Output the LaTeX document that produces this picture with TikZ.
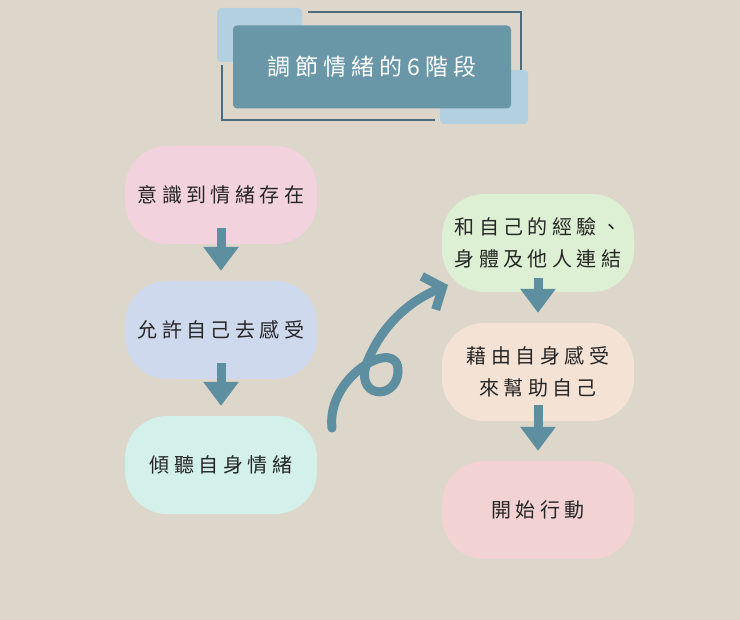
\documentclass[tikz,border=0pt]{standalone}
\usepackage{fontspec}
\newfontfamily\cjk{Noto Sans CJK TC}
\usetikzlibrary{arrows.meta}
\definecolor{bg}{HTML}{DDD6CA}
\definecolor{teal}{HTML}{6A97A8}
\definecolor{lblue}{HTML}{B3D0E0}
\definecolor{dline}{HTML}{4E6B7C}
\definecolor{arr}{HTML}{5E8FA0}
\tikzset{
 blob/.style={rounded corners=42pt, minimum width=192pt, minimum height=98pt, align=center, font=\cjk\fontsize{20}{32}\selectfont, text=black!85, inner sep=0pt},
 down/.style={line width=9pt, draw=arr, -{Triangle[width=34pt,length=24pt]}},
}
\begin{document}
\begin{tikzpicture}[x=1pt,y=-1pt]
\fill[bg] (0,0) rectangle (740,620);
\useasboundingbox (0,0) rectangle (740,620);
\fill[lblue, rounded corners=4pt] (217,8) rectangle (302,62);
\fill[lblue, rounded corners=4pt] (440,70) rectangle (528,124);
\draw[dline, line width=1.5pt] (308,12) -- (521,12) -- (521,70);
\draw[dline, line width=1.5pt] (222,65) -- (222,120) -- (435,120);
\node[fill=teal, rounded corners=4pt, minimum width=278pt, minimum height=83pt, text=white, font=\cjk\fontsize{23}{26}\selectfont] (title) at (372,67) {調 節 情 緒 的 6 階 段};
\node[blob, fill={rgb,255:red,242;green,211;blue,221}] (a) at (221,195) {意 識 到 情 緒 存 在};
\node[blob, fill={rgb,255:red,207;green,217;blue,238}] (b) at (221,330) {允 許 自 己 去 感 受};
\node[blob, fill={rgb,255:red,211;green,240;blue,234}] (c) at (221,465) {傾 聽 自 身 情 緒};
\node[blob, fill={rgb,255:red,221;green,240;blue,211}] (d) at (538,243) {和 自 己 的 經 驗 、\\身 體 及 他 人 連 結};
\node[blob, fill={rgb,255:red,244;green,226;blue,213}] (e) at (538,372) {藉 由 自 身 感 受\\來 幫 助 自 己};
\node[blob, fill={rgb,255:red,242;green,210;blue,210}] (f) at (538,510) {開 始 行 動};
\draw[down] ([yshift=16pt]a.south) -- ([yshift=10pt]b.north);
\draw[down] ([yshift=16pt]b.south) -- ([yshift=10pt]c.north);
\draw[down] ([yshift=14pt]d.south) -- ([yshift=10pt]e.north);
\draw[down] ([yshift=16pt]e.south) -- ([yshift=10pt]f.north);
\coordinate (s) at (332,428);
\coordinate (t) at (448,285);
\draw[line width=9pt, draw=arr, line cap=round, -{Straight Barb[length=15pt,width=36pt]}]
 (s) .. controls (326,375) and (400,335) .. (398,372)
 .. controls (396,402) and (352,398) .. (368,360)
 .. controls (384,322) and (412,300) .. (t);
\end{tikzpicture}
\end{document}
